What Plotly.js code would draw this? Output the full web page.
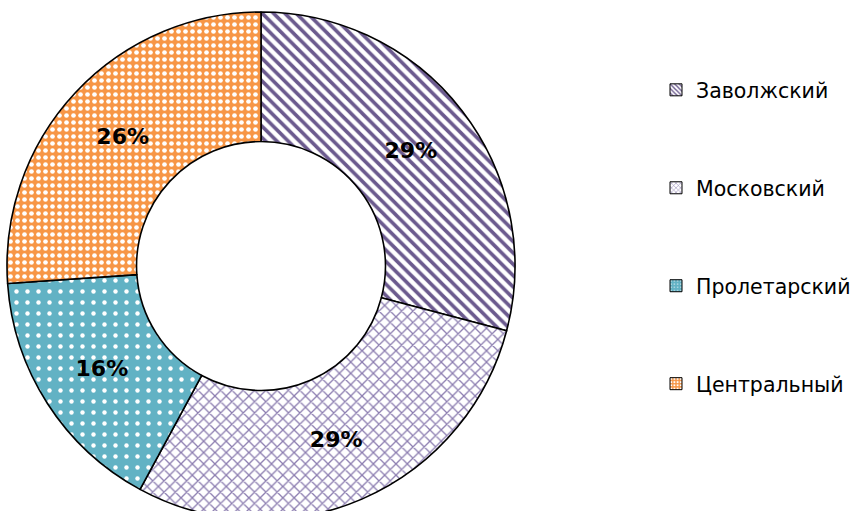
<!DOCTYPE html>
<html>
<head>
<meta charset="utf-8">
<script src="https://cdn.plot.ly/plotly-3.0.1.min.js"></script>
<style>html,body{margin:0;padding:0;overflow:hidden;background:#fff;}</style>
</head>
<body>
<div id="chart" style="width:856px;height:520px;"></div>
<script>
const districts = ["Заволжский", "Московский", "Пролетарский", "Центральный"];
const shares = [29.1, 28.8, 16.0, 26.1];
const bgColors = ["#ffffff", "#ffffff", "#62b2c4", "#f79646"];
const fgColors = ["#6b5a8e", "#8c7db0", "#ffffff", "#ffffff"];
const shapes = ["\\", "x", ".", "."];
const sizes = [8, 8, 11, 7];
const solidities = [0.45, 0.3, 0.13, 0.35];

const pie = {
  type: "pie",
  labels: districts,
  values: shares,
  sort: false,
  direction: "clockwise",
  hole: 0.49,
  showlegend: false,
  domain: {x: [7/856, 515/856], y: [0, 508/520]},
  marker: {
    colors: bgColors,
    line: {color: "#000000", width: 1.6},
    pattern: {shape: shapes, fgcolor: fgColors, bgcolor: bgColors, size: sizes, solidity: solidities, fillmode: "replace"}
  },
  texttemplate: "%{percent:.0%}",
  textposition: "inside",
  insidetextorientation: "horizontal",
  textfont: {family: "DejaVu Sans", size: 22, weight: "bold", color: "#000000"},
  hoverinfo: "none"
};

const legendTraces = districts.map((d, i) => ({
  type: "bar",
  x: [null],
  y: [null],
  name: d,
  legendgroup: "g" + i,
  showlegend: true,
  marker: {
    color: bgColors[i],
    line: {color: "#000000", width: 1},
    pattern: {shape: shapes[i], fgcolor: fgColors[i], bgcolor: bgColors[i], size: 4, solidity: solidities[i], fillmode: "replace"}
  }
}));

const layout = {
  width: 856,
  height: 520,
  margin: {l: 0, r: 0, t: 0, b: 0, autoexpand: false},
  paper_bgcolor: "#ffffff",
  plot_bgcolor: "rgba(0,0,0,0)",
  xaxis: {visible: false, domain: [0.9, 0.91]},
  yaxis: {visible: false},
  showlegend: true,
  legend: {
    x: 656/856, xanchor: "left",
    y: 1 - 70/520, yanchor: "top",
    traceorder: "grouped",
    tracegroupgap: 68.3,
    font: {family: "DejaVu Sans", size: 20.5, color: "#000000"},
    bgcolor: "rgba(0,0,0,0)"
  }
};

Plotly.newPlot("chart", [pie].concat(legendTraces), layout, {displayModeBar: false, staticPlot: true});
</script>
</body>
</html>
